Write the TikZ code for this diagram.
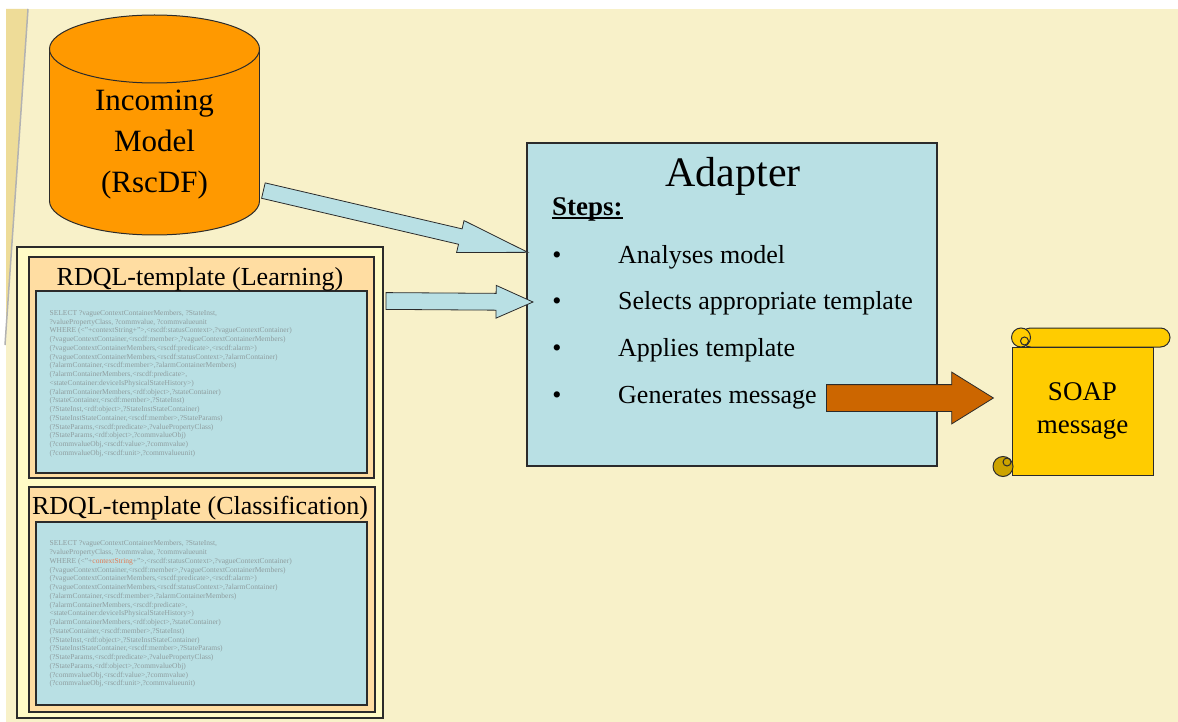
\documentclass[tikz,border=0pt]{standalone}
\usepackage{fontspec}
\setmainfont{Liberation Serif}
\usetikzlibrary{shapes.arrows,positioning}

\definecolor{bgcream}{HTML}{F8F1C9}
\definecolor{stripyellow}{HTML}{EEDC98}
\definecolor{panelyellow}{HTML}{FFFBC6}
\definecolor{peach}{HTML}{FFDDA2}
\definecolor{adapterblue}{HTML}{B9E0E4}
\definecolor{modelorange}{HTML}{FF9900}
\definecolor{sendbrown}{HTML}{CC6600}
\definecolor{scrollyellow}{HTML}{FFCC00}
\definecolor{curlyellow}{HTML}{CCA300}
\definecolor{linegrey}{HTML}{2B2B2B}
\definecolor{codegrey}{HTML}{8E9C9E}
\definecolor{contextred}{HTML}{E07A55}

\newcommand{\rdqlquery}[1]{SELECT ?vagueContextContainerMembers, ?StateInst,\\
?valuePropertyClass, ?commvalue, ?commvalueunit\\
WHERE (<"+\textcolor{#1}{contextString}+">,<rscdf:statusContext>,?vagueContextContainer)\\
(?vagueContextContainer,<rscdf:member>,?vagueContextContainerMembers)\\
(?vagueContextContainerMembers,<rscdf:predicate>,<rscdf:alarm>)\\
(?vagueContextContainerMembers,<rscdf:statusContext>,?alarmContainer)\\
(?alarmContainer,<rscdf:member>,?alarmContainerMembers)\\
(?alarmContainerMembers,<rscdf:predicate>,\\
<stateContainer:deviceIsPhysicalStateHistory>)\\
(?alarmContainerMembers,<rdf:object>,?stateContainer)\\
(?stateContainer,<rscdf:member>,?StateInst)\\
(?StateInst,<rdf:object>,?StateInstStateContainer)\\
(?StateInstStateContainer,<rscdf:member>,?StateParams)\\
(?StateParams,<rscdf:predicate>,?valuePropertyClass)\\
(?StateParams,<rdf:object>,?commvalueObj)\\
(?commvalueObj,<rscdf:value>,?commvalue)\\
(?commvalueObj,<rscdf:unit>,?commvalueunit)}

\begin{document}
\begin{tikzpicture}[x=1pt,y=-1pt,
  box/.style={draw=linegrey,line width=1.2pt,inner sep=0pt},
  blockarrow/.style={single arrow,draw=linegrey,line width=0.8pt,inner xsep=0pt,single arrow head indent=0pt},
  codetext/.style={font=\fontsize{7.5}{8.75}\selectfont,text=codegrey,align=left,inner sep=0pt},
  steptext/.style={font=\fontsize{26}{30}\selectfont,inner sep=0pt}]

  \useasboundingbox (0,0) rectangle (1178,722);

  % background
  \fill[white] (0,0) rectangle (1178,722);
  \fill[bgcream] (6,9) rectangle (1178,722);
  \fill[stripyellow] (6,9) -- (28,9) -- (6,330) -- cycle;
  \draw[gray!60,line width=1.5pt] (28,9) -- (5,345);

  % incoming model
  \filldraw[draw=linegrey,line width=1pt,fill=modelorange] (154.5,201) ellipse[x radius=105pt,y radius=34pt];
  \fill[modelorange] (49.5,49) rectangle (259.5,201);
  \draw[linegrey,line width=1pt] (49.5,49) -- (49.5,201) (259.5,49) -- (259.5,201);
  \filldraw[draw=linegrey,line width=1pt,fill=modelorange] (154.5,49) ellipse[x radius=105pt,y radius=34pt];
  \node[align=center,font=\fontsize{31}{41}\selectfont,inner sep=0pt] (model) at (154.5,145) {Incoming\\Model\\(RscDF)};

  % templates
  \node[box,fill=panelyellow,minimum width=366pt,minimum height=471pt] (tplpanel) at (200,482.5) {};
  \node[box,fill=peach,minimum width=345pt,minimum height=221pt] (learnbox) at (201.5,367.5) {};
  \node[box,fill=adapterblue,minimum width=331pt,minimum height=182pt] (learncode) at (201.5,382) {};
  \node[font=\fontsize{26}{30}\selectfont,inner sep=0pt,anchor=base] (learntitle) at (200,285) {RDQL-template (Learning)};
  \node[codetext,anchor=north west] (learnquery) at ([xshift=14pt,yshift=-19.5pt]learncode.north west) {\rdqlquery{codegrey}};

  \node[box,fill=peach,minimum width=346pt,minimum height=225pt] (classbox) at (202,599.5) {};
  \node[box,fill=adapterblue,minimum width=331pt,minimum height=183pt] (classcode) at (201.5,613.5) {};
  \node[font=\fontsize{26}{30}\selectfont,inner sep=0pt,anchor=base] (classtitle) at (200,514) {RDQL-template (Classification)};
  \node[codetext,anchor=north west] (classquery) at ([xshift=14pt,yshift=-19pt]classcode.north west) {\rdqlquery{contextred}};

  % adapter
  \node[box,fill=adapterblue,minimum width=410pt,minimum height=323pt] (adapter) at (732,304.5) {};
  \node[font=\fontsize{42}{48}\selectfont,inner sep=0pt,anchor=base] (adaptertitle) at (733,187) {Adapter};
  \node[font=\fontsize{27}{30}\selectfont\bfseries,inner sep=0pt,anchor=base west] (steps) at (552,215) {Steps:};
  \draw[line width=1.2pt] ([yshift=-3pt]steps.base west) -- ([yshift=-3pt]steps.base east);
  \foreach \txt [count=\i] in {Analyses model,Selects appropriate template,Applies template,Generates message}{
    \node[steptext,anchor=base] (bullet\i) at (557,{263+46.67*(\i-1)}) {\textbullet};
    \node[steptext,anchor=base west] (step\i) at (618,{263+46.67*(\i-1)}) {\txt};
  }

  % soap message
  \filldraw[draw=linegrey,line width=1pt,fill=scrollyellow,rounded corners=9.5pt] (1021,328) rectangle (1170,347);
  \node[box,line width=1pt,fill=scrollyellow,minimum width=141pt,minimum height=128pt,align=center,font=\fontsize{27}{33}\selectfont] (soap) at (1082.5,411) {SOAP\\message};
  \filldraw[draw=linegrey,line width=1pt,fill=scrollyellow] (1021,337.5) circle[radius=9.5pt];
  \draw[linegrey,line width=1pt] (1024.5,341) circle[radius=4pt];
  \filldraw[draw=linegrey,line width=1pt,fill=curlyellow] (1003,466.5) circle[radius=10pt];
  \draw[linegrey,line width=1pt] (1007,462) circle[radius=4pt];

  % arrows
  \coordinate (modelout) at (263,190.5);
  \coordinate (adapterin) at ([yshift=52.5pt]adapter.west);
  \coordinate (tplout) at ([xshift=2pt,yshift=181.5pt]tplpanel.east);
  \coordinate (adaptersel) at ([xshift=4pt,yshift=2.5pt]adapter.west);
  \coordinate (gentail) at (826,398);
  \coordinate (soaptip) at ([xshift=-19pt,yshift=13pt]soap.west);

  \path (modelout) -- (adapterin) node[pos=0,anchor=tail,sloped,blockarrow,fill=adapterblue,inner ysep=7.5pt,minimum height=271.6pt,single arrow head extend=8.5pt,single arrow tip angle=26.6] (modelarrow) {};
  \path (tplout) -- (adaptersel) node[pos=0,anchor=tail,sloped,blockarrow,fill=adapterblue,inner ysep=8pt,minimum height=147pt,single arrow head extend=8pt,single arrow tip angle=47.9] (tplarrow) {};
  \path (gentail) -- (soaptip) node[pos=0,anchor=tail,sloped,blockarrow,fill=sendbrown,inner ysep=13pt,minimum height=167pt,single arrow head extend=12.5pt,single arrow tip angle=63.7] (sendarrow) {};

\end{tikzpicture}
\end{document}
